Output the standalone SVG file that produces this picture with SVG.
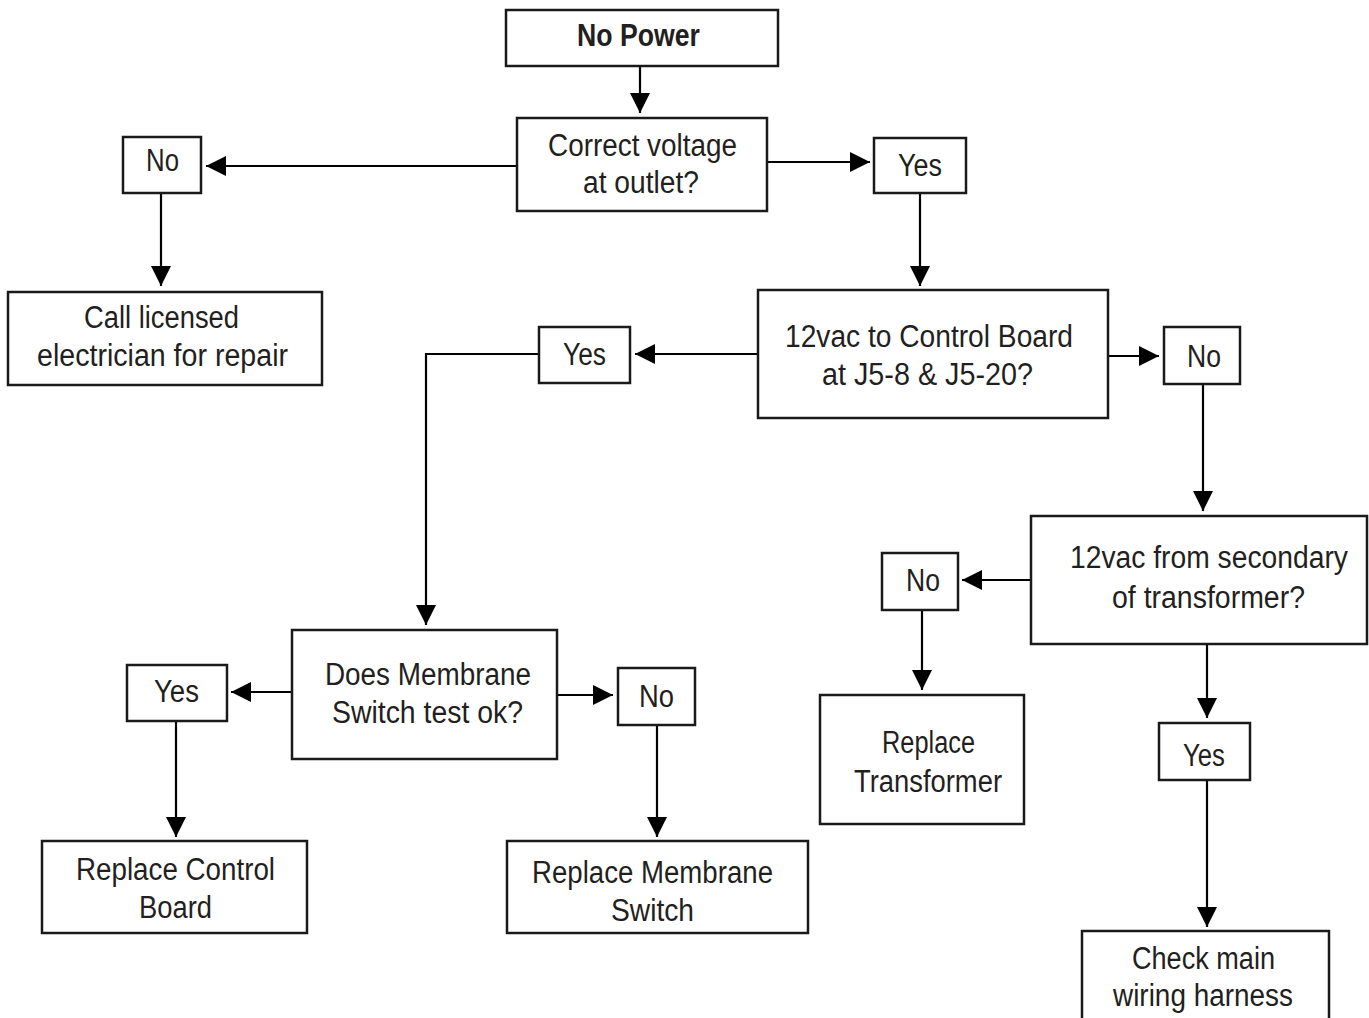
<svg xmlns="http://www.w3.org/2000/svg" width="1369" height="1018" viewBox="0 0 1369 1018">
<style>
.box{fill:#fff;stroke:#1a1a1a;stroke-width:2.5}
.t{font-family:"Liberation Sans",Arial,sans-serif;font-size:31px;fill:#231f20;text-anchor:middle}
.b{font-weight:bold}
.c{fill:none;stroke:#000;stroke-width:2.2}
</style>
<defs>
<marker id="ah" markerUnits="userSpaceOnUse" markerWidth="22" markerHeight="20" refX="20" refY="10" orient="auto">
<path d="M0,0 L20,10 L0,20 Z" fill="#000"/>
</marker>
</defs>
<rect width="1369" height="1018" fill="#fff"/>
<g id="connectors">
<line class="c" x1="640" y1="66" x2="640" y2="113" marker-end="url(#ah)"/>
<line class="c" x1="517" y1="166" x2="206" y2="166" marker-end="url(#ah)"/>
<line class="c" x1="161" y1="193" x2="161" y2="286" marker-end="url(#ah)"/>
<line class="c" x1="767" y1="162" x2="870" y2="162" marker-end="url(#ah)"/>
<line class="c" x1="920" y1="193" x2="920" y2="286" marker-end="url(#ah)"/>
<line class="c" x1="758" y1="354" x2="635" y2="354" marker-end="url(#ah)"/>
<polyline class="c" points="539,354 426,354 426,625" marker-end="url(#ah)"/>
<line class="c" x1="1108" y1="356" x2="1159" y2="356" marker-end="url(#ah)"/>
<line class="c" x1="1203" y1="384" x2="1203" y2="511" marker-end="url(#ah)"/>
<line class="c" x1="1031" y1="580" x2="962" y2="580" marker-end="url(#ah)"/>
<line class="c" x1="922" y1="610" x2="922" y2="690" marker-end="url(#ah)"/>
<line class="c" x1="1207" y1="644" x2="1207" y2="718" marker-end="url(#ah)"/>
<line class="c" x1="1207" y1="780" x2="1207" y2="927" marker-end="url(#ah)"/>
<line class="c" x1="292" y1="692" x2="231" y2="692" marker-end="url(#ah)"/>
<line class="c" x1="176" y1="721" x2="176" y2="837" marker-end="url(#ah)"/>
<line class="c" x1="557" y1="695" x2="613" y2="695" marker-end="url(#ah)"/>
<line class="c" x1="657" y1="725" x2="657" y2="837" marker-end="url(#ah)"/>
</g>
<g id="no-power"><rect class="box" x="506" y="10" width="272" height="56"/><text class="t b" x="638.5" y="46" textLength="123" lengthAdjust="spacingAndGlyphs">No Power</text></g>
<g id="correct-voltage"><rect class="box" x="517" y="118" width="250" height="93"/><text class="t" x="642.5" y="156" textLength="189" lengthAdjust="spacingAndGlyphs">Correct voltage</text><text class="t" x="641" y="193" textLength="116" lengthAdjust="spacingAndGlyphs">at outlet?</text></g>
<g id="no-1"><rect class="box" x="123" y="137" width="78" height="56"/><text class="t" x="162.5" y="171" textLength="33" lengthAdjust="spacingAndGlyphs">No</text></g>
<g id="call-electrician"><rect class="box" x="8" y="292" width="314" height="93"/><text class="t" x="161.5" y="328" textLength="155" lengthAdjust="spacingAndGlyphs">Call licensed</text><text class="t" x="162.5" y="366" textLength="251" lengthAdjust="spacingAndGlyphs">electrician for repair</text></g>
<g id="yes-1"><rect class="box" x="874" y="138" width="92" height="55"/><text class="t" x="920" y="176" textLength="44" lengthAdjust="spacingAndGlyphs">Yes</text></g>
<g id="control-board-12vac"><rect class="box" x="758" y="290" width="350" height="128"/><text class="t" x="929" y="347" textLength="288" lengthAdjust="spacingAndGlyphs">12vac to Control Board</text><text class="t" x="927.5" y="385" textLength="211" lengthAdjust="spacingAndGlyphs">at J5-8 &amp; J5-20?</text></g>
<g id="yes-2"><rect class="box" x="539" y="327" width="91" height="56"/><text class="t" x="584.5" y="365" textLength="43" lengthAdjust="spacingAndGlyphs">Yes</text></g>
<g id="no-2"><rect class="box" x="1164" y="327" width="76" height="57"/><text class="t" x="1204" y="367" textLength="34" lengthAdjust="spacingAndGlyphs">No</text></g>
<g id="secondary-12vac"><rect class="box" x="1031" y="516" width="336" height="128"/><text class="t" x="1209" y="568" textLength="278" lengthAdjust="spacingAndGlyphs">12vac from secondary</text><text class="t" x="1208.5" y="608" textLength="193" lengthAdjust="spacingAndGlyphs">of transformer?</text></g>
<g id="no-3"><rect class="box" x="882" y="553" width="76" height="57"/><text class="t" x="923" y="591" textLength="34" lengthAdjust="spacingAndGlyphs">No</text></g>
<g id="replace-transformer"><rect class="box" x="820" y="695" width="204" height="129"/><text class="t" x="928.5" y="753" textLength="93" lengthAdjust="spacingAndGlyphs">Replace</text><text class="t" x="928" y="792" textLength="148" lengthAdjust="spacingAndGlyphs">Transformer</text></g>
<g id="yes-3"><rect class="box" x="1159" y="723" width="91" height="57"/><text class="t" x="1204" y="766" textLength="42" lengthAdjust="spacingAndGlyphs">Yes</text></g>
<g id="check-harness"><rect class="box" x="1082" y="931" width="247" height="100"/><text class="t" x="1203.5" y="969" textLength="143" lengthAdjust="spacingAndGlyphs">Check main</text><text class="t" x="1203" y="1006" textLength="180" lengthAdjust="spacingAndGlyphs">wiring harness</text></g>
<g id="membrane-test"><rect class="box" x="292" y="630" width="265" height="129"/><text class="t" x="428" y="685" textLength="206" lengthAdjust="spacingAndGlyphs">Does Membrane</text><text class="t" x="427.5" y="723" textLength="191" lengthAdjust="spacingAndGlyphs">Switch test ok?</text></g>
<g id="yes-4"><rect class="box" x="127" y="665" width="100" height="56"/><text class="t" x="176.5" y="702" textLength="45" lengthAdjust="spacingAndGlyphs">Yes</text></g>
<g id="replace-control-board"><rect class="box" x="42" y="841" width="265" height="92"/><text class="t" x="175.5" y="880" textLength="199" lengthAdjust="spacingAndGlyphs">Replace Control</text><text class="t" x="175.5" y="918" textLength="73" lengthAdjust="spacingAndGlyphs">Board</text></g>
<g id="no-4"><rect class="box" x="618" y="668" width="77" height="57"/><text class="t" x="656.5" y="707" textLength="35" lengthAdjust="spacingAndGlyphs">No</text></g>
<g id="replace-membrane"><rect class="box" x="507" y="841" width="301" height="92"/><text class="t" x="652.5" y="883" textLength="241" lengthAdjust="spacingAndGlyphs">Replace Membrane</text><text class="t" x="652.5" y="921" textLength="83" lengthAdjust="spacingAndGlyphs">Switch</text></g>
</svg>
